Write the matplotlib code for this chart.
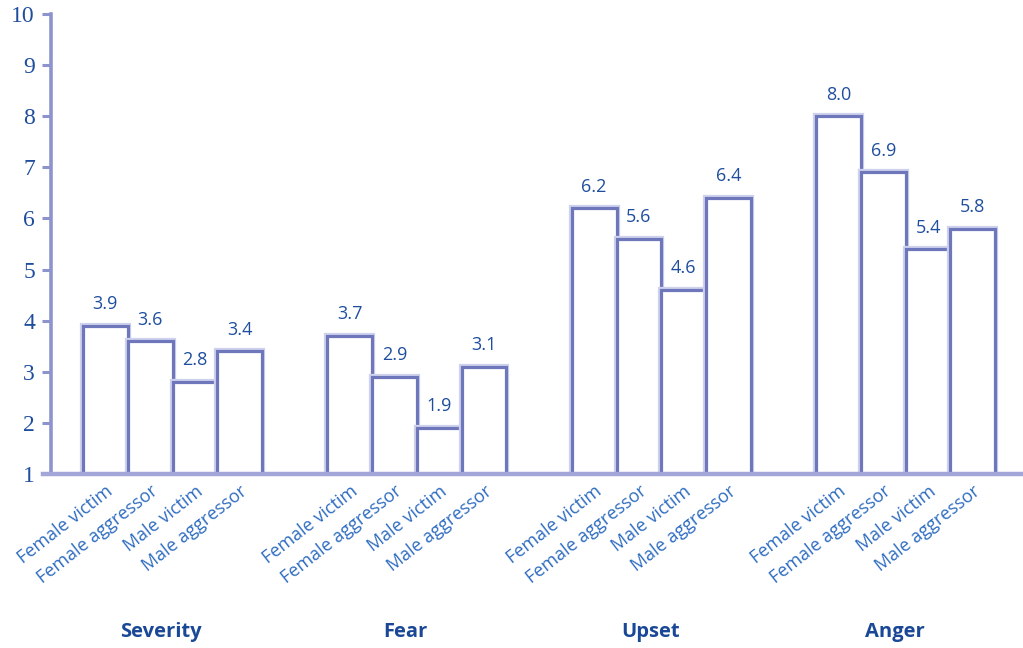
import matplotlib
matplotlib.use("Agg")
import matplotlib.pyplot as plt
import matplotlib.patheffects as pe
import numpy as np

groups = ["Severity", "Fear", "Upset", "Anger"]
categories = ["Female victim", "Female aggressor", "Male victim", "Male aggressor"]
severity = [3.9, 3.6, 2.8, 3.4]
fear = [3.7, 2.9, 1.9, 3.1]
upset = [6.2, 5.6, 4.6, 6.4]
anger = [8.0, 6.9, 5.4, 5.8]
series = [severity, fear, upset, anger]
yticks = [1, 2, 3, 4, 5, 6, 7, 8, 9, 10]

bar_w = 1.0
group_gap = 5.46
base = 1.0

edge_col = "#6e76bc"
halo_col = "#cfd2ec"
axis_col = "#8d93cc"
txt_dark = "#1f4e9e"
txt_light = "#2e6cc0"

fig = plt.figure(figsize=(10.23, 6.48), dpi=100)
ax = fig.add_axes([51/1023, (648-474)/648, (1023-51)/1023, (474-14)/648])

halo = [pe.withStroke(linewidth=4.5, foreground=halo_col)]
xpos_all, lab_all = [], []
for g, vals in enumerate(series):
    lefts = g * group_gap + np.arange(len(vals)) * bar_w
    centers = lefts + bar_w / 2
    heights = np.array(vals) - base
    bars = ax.bar(centers, heights, width=bar_w, bottom=base, color="white",
                  edgecolor=edge_col, linewidth=2.3, zorder=3)
    for b in bars:
        b.set_path_effects(halo)
    for c, v in zip(centers, vals):
        ax.annotate(f"{v:.1f}", (c, v), xytext=(0, 9), textcoords="offset points",
                    ha="center", va="bottom", fontsize=13, color=txt_dark,
                    family="Open Sans")
    xpos_all.extend(centers)
    lab_all.extend(categories)
    gc = centers.mean() - 0.25
    ax.text(gc, -0.343, groups[g], transform=ax.get_xaxis_transform(),
            ha="center", va="center", fontsize=14.5, fontweight="bold",
            color="#1a4896", family="Open Sans")

ax.set_ylim(1, 10)
ax.set_xlim(-0.715, 21.0)
ax.set_yticks(yticks)
ax.set_yticklabels([str(t) for t in yticks], family="Liberation Serif",
                   fontsize=17, color=txt_dark)
ax.tick_params(axis="y", direction="out", length=6.5, width=2.2, color=axis_col, pad=5)

ax.set_xticks(xpos_all)
ax.set_xticklabels(lab_all, rotation=38, ha="right", va="top",
                   rotation_mode="anchor", fontsize=13, color=txt_light,
                   family="Open Sans")
ax.tick_params(axis="x", length=0, pad=6)

for s in ["top", "right"]:
    ax.spines[s].set_visible(False)
ax.spines["left"].set_color(axis_col)
ax.spines["left"].set_linewidth(2.6)
ax.spines["bottom"].set_color("#a2a7d7")
ax.spines["bottom"].set_linewidth(3.2)
ax.spines["bottom"].set_zorder(5)
ax.spines["bottom"].set_bounds(-0.9, 21.0)

fig.savefig("out.png", dpi=100)
